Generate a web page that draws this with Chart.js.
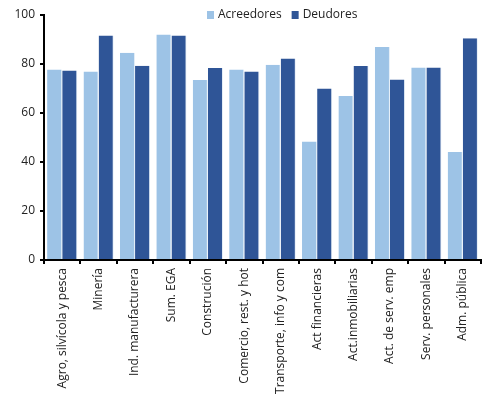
<!DOCTYPE html>
<html>
<head>
<meta charset="utf-8">
<script src="https://cdn.jsdelivr.net/npm/chart.js@4"></script>
<style>
  body { margin: 0; background: #fff; }
  #wrap { width: 482px; height: 398px; position: relative; }
</style>
</head>
<body>
<div id="wrap"><canvas id="myChart"></canvas></div>
<script>
const sectores = ['Agro, silvícola y pesca', 'Minería', 'Ind. manufacturera', 'Sum. EGA', 'Construción',
    'Comercio, rest. y hot', 'Transporte, info y com', 'Act financieras', 'Act.inmobiliarias',
    'Act. de serv. emp', 'Serv. personales', 'Adm. pública']
const acreedores = [77.8, 76.9, 84.6, 92.0, 73.5, 77.8, 79.7, 48.4, 66.9, 86.9, 78.6, 44.1]
const deudores = [77.3, 91.6, 79.3, 91.6, 78.4, 76.9, 82.2, 70.0, 79.2, 73.7, 78.6, 90.5]
const yTicks = [0, 20, 40, 60, 80, 100]

const fontName = "'Open Sans', 'DejaVu Sans', sans-serif"

// legend drawn by hand so it can sit over the top of the plot like the original
const topLegend = {
    id: 'topLegend',
    afterDraw(chart) {
        const ctx = chart.ctx
        let x = 207
        const y = 15
        ctx.save()
        ctx.font = '12px ' + fontName
        ctx.textBaseline = 'middle'
        chart.data.datasets.forEach(ds => {
            ctx.fillStyle = ds.backgroundColor
            ctx.fillRect(x, y - 4, 7, 8)
            ctx.fillStyle = '#222'
            ctx.fillText(ds.label, x + 11, y)
            x += 11 + ctx.measureText(ds.label).width + 10
        })
        ctx.restore()
    }
}

let myChart = document.querySelector('#myChart').getContext('2d')

new Chart(myChart, {
    type: 'bar',
    data: {
        labels: sectores,
        datasets: [{
            label: 'Acreedores',
            data: acreedores,
            backgroundColor: '#9DC3E6',
            borderColor: '#E4EEF8',
            borderWidth: { right: 1 }
        }, {
            label: 'Deudores',
            data: deudores,
            backgroundColor: '#2F5597',
            borderColor: '#E4EEF8',
            borderWidth: { right: 1 }
        }]
    },
    options: {
        responsive: true,
        maintainAspectRatio: false,
        animation: false,
        layout: { padding: { top: 15, right: 1, left: 0, bottom: 0 } },
        plugins: {
            legend: { display: false },
            tooltip: { enabled: false }
        },
        datasets: {
            bar: { categoryPercentage: 0.83, barPercentage: 1.0 }
        },
        scales: {
            x: {
                afterFit: (axis) => { axis.height = 138 },
                grid: { display: true, drawOnChartArea: false, offset: true, color: '#000', lineWidth: 2, tickLength: 4 },
                border: { color: '#000', width: 2 },
                ticks: {
                    color: '#222',
                    font: { family: fontName, size: 12 },
                    minRotation: 90,
                    maxRotation: 90,
                    autoSkip: false,
                    padding: 4
                }
            },
            y: {
                min: 0,
                max: 100,
                afterFit: (axis) => { axis.width = 44 },
                afterBuildTicks: (axis) => { axis.ticks = yTicks.map(v => ({ value: v })) },
                grid: { display: true, drawOnChartArea: false, color: '#000', lineWidth: 2, tickLength: 4 },
                border: { color: '#000', width: 2 },
                ticks: {
                    color: '#222',
                    font: { family: fontName, size: 12 },
                    padding: 5
                }
            }
        }
    },
    plugins: [topLegend]
})
</script>
</body>
</html>
